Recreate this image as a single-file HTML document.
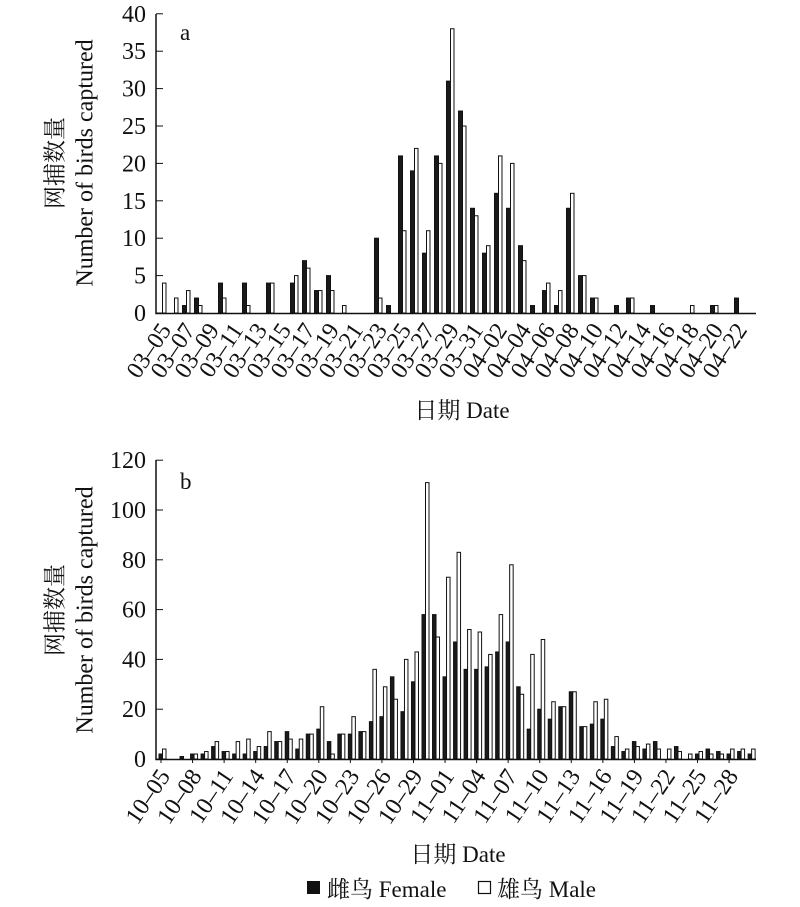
<!DOCTYPE html>
<html><head><meta charset="utf-8"><style>
html,body{margin:0;padding:0;background:#fff;}
svg{display:block;}
text{font-family:"Liberation Serif","Noto Serif CJK SC","Noto Sans CJK SC",serif;fill:#111;}
</style></head><body>
<svg id="s" width="800" height="907" viewBox="0 0 800 907" xmlns="http://www.w3.org/2000/svg">
<g id="g"></g>
<text x="180" y="40" font-size="23">a</text>
<text x="180" y="489" font-size="23">b</text>
<text x="57" y="163" font-size="23" text-anchor="middle" transform="rotate(-90 57 163)" dominant-baseline="middle">网捕数量</text>
<text x="87" y="163" font-size="24" text-anchor="middle" transform="rotate(-90 87 163)" dominant-baseline="middle">Number of birds captured</text>
<text x="57" y="610" font-size="23" text-anchor="middle" transform="rotate(-90 57 610)" dominant-baseline="middle">网捕数量</text>
<text x="87" y="610" font-size="24" text-anchor="middle" transform="rotate(-90 87 610)" dominant-baseline="middle">Number of birds captured</text>
<text x="462" y="418" font-size="23" text-anchor="middle">日期 Date</text>
<text x="458" y="862" font-size="23" text-anchor="middle">日期 Date</text>
<rect x="307" y="881" width="13" height="13" fill="#111"/>
<text x="327" y="897" font-size="23">雌鸟 Female</text>
<rect x="478.5" y="881.5" width="12" height="12" fill="#fff" stroke="#111" stroke-width="1.2"/>
<text x="497" y="897" font-size="23">雄鸟 Male</text>
</svg>
<script>
var g=document.getElementById('g'),h='';
function R(x,y,w,hh,f){h+='<rect x="'+x+'" y="'+y+'" width="'+w+'" height="'+hh+'" fill="'+f+'" stroke="#111" stroke-width="1"/>';}
var A=[[0,4],[0,2],[1,3],[2,1],[0,0],[4,2],[0,0],[4,1],[0,0],[4,4],[0,0],[4,5],[7,6],[3,3],[5,3],[0,1],[0,0],[0,0],[10,2],[1,0],[21,11],[19,22],[8,11],[21,20],[31,38],[27,25],[14,13],[8,9],[16,21],[14,20],[9,7],[1,0],[3,4],[1,3],[14,16],[5,5],[2,2],[0,0],[1,0],[2,2],[0,0],[1,0],[0,0],[0,0],[0,1],[0,0],[1,1],[0,0],[2,0]];
var y0=313,sc=7.48;
A.forEach(function(d,k){var x=158+12*k;
 if(d[0])R(x+0.5,y0-d[0]*sc,4,d[0]*sc,'#1a1a1a');
 if(d[1])R(x+4.5,y0-d[1]*sc,3.5,d[1]*sc,'#fff');});
h+='<path d="M156 14V313.5H756" fill="none" stroke="#111" stroke-width="1.5"/>';
for(var i=0;i<=8;i++){var y=313-i*5*sc;h+='<line x1="156" x2="163" y1="'+y+'" y2="'+y+'" stroke="#111"/><text x="146" y="'+(y+8)+'" font-size="24" text-anchor="end">'+(i*5)+'</text>';}
var la=[];for(var d=5;d<=31;d+=2)la.push('03–'+(d<10?'0':'')+d);for(var d=2;d<=22;d+=2)la.push('04–'+(d<10?'0':'')+d);
la.forEach(function(t,i){var x=162+24*i;h+='<text x="'+(x+10)+'" y="330" font-size="24" text-anchor="end" transform="rotate(-56 '+(x+10)+' 330)">'+t+'</text>';});
var B=[[2,4],[0,0],[1,0],[2,2],[2,3],[5,7],[3,3],[2,7],[2,8],[3,5],[5,11],[7,7],[11,8],[4,8],[10,10],[12,21],[7,2],[10,10],[10,17],[11,11],[15,36],[17,29],[33,24],[19,40],[31,43],[58,111],[58,49],[33,73],[47,83],[36,52],[36,51],[37,42],[43,58],[47,78],[29,26],[12,42],[20,48],[16,23],[21,21],[27,27],[13,13],[14,23],[16,24],[5,9],[3,4],[7,5],[4,6],[7,4],[0,4],[5,3],[0,2],[2,3],[4,2],[3,2],[2,4],[3,4],[2,4]];
var yb=759,sb=2.49;
B.forEach(function(d,k){var x=159+10.52*k;
 if(d[0])R(x,yb-d[0]*sb,3.5,d[0]*sb,'#1a1a1a');
 if(d[1])R(x+3.5,yb-d[1]*sb,3.5,d[1]*sb,'#fff');});
h+='<path d="M156 460V759.5H756" fill="none" stroke="#111" stroke-width="1.5"/>';
for(var i=0;i<=6;i++){var y=759-i*20*sb;h+='<line x1="156" x2="163" y1="'+y+'" y2="'+y+'" stroke="#111"/><text x="146" y="'+(y+8)+'" font-size="24" text-anchor="end">'+(i*20)+'</text>';}
var lb=[];for(var d=5;d<=29;d+=3)lb.push('10–'+(d<10?'0':'')+d);for(var d=1;d<=28;d+=3)lb.push('11–'+(d<10?'0':'')+d);
lb.forEach(function(t,i){var x=161+31.56*i;h+='<line x1="'+x+'" x2="'+x+'" y1="760" y2="763" stroke="#111"/><text x="'+(x+10)+'" y="776" font-size="24" text-anchor="end" transform="rotate(-56 '+(x+10)+' 776)">'+t+'</text>';});
g.innerHTML=h;
</script>
</body></html>
